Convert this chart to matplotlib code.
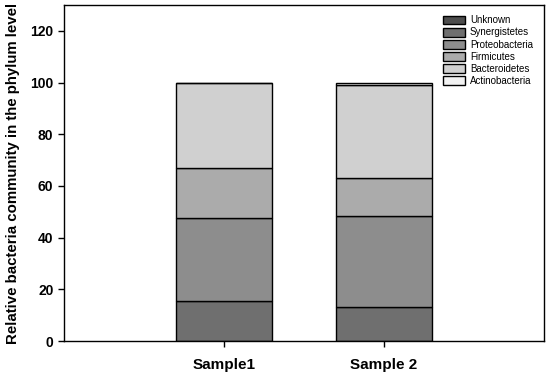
import matplotlib.pyplot as plt
import numpy as np

plt.rcParams["font.family"] = ["Liberation Sans", "DejaVu Sans"]

samples = ["Sample1", "Sample 2"]
phyla = ["Unknown", "Synergistetes", "Proteobacteria", "Firmicutes", "Bacteroidetes", "Actinobacteria"]
unknown = [0.2, 0.2]
synergistetes = [15.3, 12.8]
proteobacteria = [32.0, 35.3]
firmicutes = [19.3, 14.7]
bacteroidetes = [33.0, 35.9]
actinobacteria = [0.2, 1.1]

colors = ["#4d4d4d", "#6f6f6f", "#8d8d8d", "#ababab", "#d0d0d0", "#f2f2f2"]

fig = plt.figure(figsize=(5.5, 3.79), dpi=100)
ax = fig.add_axes([0.116, 0.1, 0.873, 0.887])

x = np.arange(1, len(samples) + 1)
bottom = np.zeros(len(samples))
series = [unknown, synergistetes, proteobacteria, firmicutes, bacteroidetes, actinobacteria]
for name, vals, c in zip(phyla, series, colors):
    ax.bar(x, vals, 0.6, bottom=bottom, color=c, edgecolor="black", linewidth=1.0, label=name)
    bottom += np.array(vals)

ax.set_xlim(0, 3)
ax.set_ylim(0, 130)
ax.set_yticks(range(0, 121, 20))
ax.set_xticks(x)
ax.set_xticklabels(samples, fontsize=11, fontweight="bold")
for lab in ax.get_yticklabels():
    lab.set_fontweight("bold")
    lab.set_fontsize(10)
ax.tick_params(direction="out", length=4, width=1)
ax.tick_params(axis="x", pad=8)
ax.set_ylabel("Relative bacteria community in the phylum level", fontsize=10.8, fontweight="bold")
ax.yaxis.set_label_coords(-0.092, 0.5)
for s in ax.spines.values():
    s.set_linewidth(1.0)

handles, labels = ax.get_legend_handles_labels()
ax.legend(handles, labels, loc="upper right", frameon=False, fontsize=7,
          handlelength=2.3, handleheight=1.0, labelspacing=0.22, handletextpad=0.5,
          bbox_to_anchor=(0.995, 0.995))

fig.savefig("out.png", dpi=100)
